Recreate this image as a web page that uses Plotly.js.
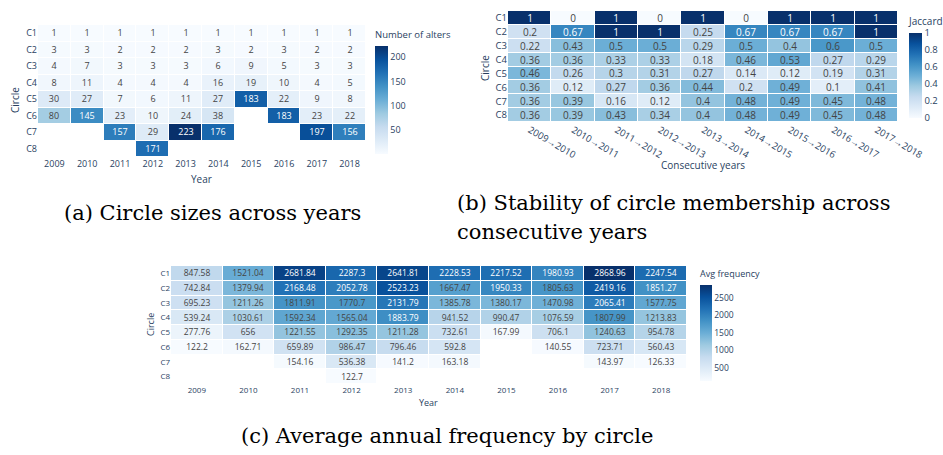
<!DOCTYPE html>
<html>
<head>
<meta charset="utf-8">
<script src="https://cdn.plot.ly/plotly-3.0.1.min.js"></script>
<style>html,body{margin:0;padding:0;background:#fff;}#chart{width:943px;height:455px;}</style>
</head>
<body>
<div id="chart"></div>
<script>
// ---- data ----
const circles = ['C1','C2','C3','C4','C5','C6','C7','C8'];
const years = ['2009','2010','2011','2012','2013','2014','2015','2016','2017','2018'];
const yearPairs = ['2009→2010','2010→2011','2011→2012','2012→2013','2013→2014','2014→2015','2015→2016','2016→2017','2017→2018'];

// (a) number of alters per circle per year
const sizeC1 = [1,1,1,1,1,1,1,1,1,1];
const sizeC2 = [3,3,2,2,2,3,2,3,2,2];
const sizeC3 = [4,7,3,3,3,6,9,5,3,3];
const sizeC4 = [8,11,4,4,4,16,19,10,4,5];
const sizeC5 = [30,27,7,6,11,27,183,22,9,8];
const sizeC6 = [80,145,23,10,24,38,null,183,23,22];
const sizeC7 = [null,null,157,29,223,176,null,null,197,156];
const sizeC8 = [null,null,null,171,null,null,null,null,null,null];

// (b) Jaccard stability across consecutive years
const jacC1 = [1,0,1,0,1,0,1,1,1];
const jacC2 = [0.2,0.67,1,1,0.25,0.67,0.67,0.67,1];
const jacC3 = [0.22,0.43,0.5,0.5,0.29,0.5,0.4,0.6,0.5];
const jacC4 = [0.36,0.36,0.33,0.33,0.18,0.46,0.53,0.27,0.29];
const jacC5 = [0.46,0.26,0.3,0.31,0.27,0.14,0.12,0.19,0.31];
const jacC6 = [0.36,0.12,0.27,0.36,0.44,0.2,0.49,0.1,0.41];
const jacC7 = [0.36,0.39,0.16,0.12,0.4,0.48,0.49,0.45,0.48];
const jacC8 = [0.36,0.39,0.43,0.34,0.4,0.48,0.49,0.45,0.48];

// (c) average annual frequency by circle
const freqC1 = [847.58,1521.04,2681.84,2287.3,2641.81,2228.53,2217.52,1980.93,2868.96,2247.54];
const freqC2 = [742.84,1379.94,2168.48,2052.78,2523.23,1667.47,1950.33,1805.63,2419.16,1851.27];
const freqC3 = [695.23,1211.26,1811.91,1770.7,2131.79,1385.78,1380.17,1470.98,2065.41,1577.75];
const freqC4 = [539.24,1030.61,1592.34,1565.04,1883.79,941.52,990.47,1076.59,1807.99,1213.83];
const freqC5 = [277.76,656,1221.55,1292.35,1211.28,732.61,167.99,706.1,1240.63,954.78];
const freqC6 = [122.2,162.71,659.89,986.47,796.46,592.8,null,140.55,723.71,560.43];
const freqC7 = [null,null,154.16,536.38,141.2,163.18,null,null,143.97,126.33];
const freqC8 = [null,null,null,122.7,null,null,null,null,null,null];

// ---- styling ----
const W = 943, H = 455;
const fx = p => p / W;
const fy = p => 1 - p / H;
const blues = [
  [0,'rgb(247,251,255)'],[0.125,'rgb(222,235,247)'],[0.25,'rgb(198,219,239)'],
  [0.375,'rgb(158,202,225)'],[0.5,'rgb(107,174,214)'],[0.625,'rgb(66,146,198)'],
  [0.75,'rgb(33,113,181)'],[0.875,'rgb(8,81,156)'],[1,'rgb(8,48,107)']
];
const txt = '#2a3f5f';
const base = 'Open Sans, Arial, sans-serif';
const serif = 'DejaVu Serif, Liberation Serif, serif';

function cb(xL, yTop, yBot, thick, title, dtick, size) {
  return {
    x: fx(xL), xanchor: 'left', xpad: 0, ypad: 0,
    y: fy((yTop + yBot) / 2), yanchor: 'middle',
    len: (yBot - yTop) / H, lenmode: 'fraction', thickness: thick,
    outlinewidth: 0, dtick: dtick, ticklen: 0, ticks: '',
    tickfont: {size: size, color: txt, family: base},
    title: {text: title, side: 'top', font: {size: size + 0.5, color: txt, family: base}}
  };
}

const traces = [
  {
    type: 'heatmap', x: years, y: circles,
    z: [sizeC1,sizeC2,sizeC3,sizeC4,sizeC5,sizeC6,sizeC7,sizeC8],
    colorscale: blues, zmin: 1, zmax: 223, xgap: 1, ygap: 1,
    texttemplate: '%{z:.0f}', textfont: {size: 9, family: base},
    xaxis: 'x', yaxis: 'y', hoverongaps: false,
    colorbar: cb(375, 28, 154, 13, 'Number of alters', 50, 9)
  },
  {
    type: 'heatmap', x: yearPairs, y: circles,
    z: [jacC1,jacC2,jacC3,jacC4,jacC5,jacC6,jacC7,jacC8],
    colorscale: blues, zmin: 0, zmax: 1, xgap: 1, ygap: 1,
    texttemplate: '%{z:.2~f}', textfont: {size: 10, family: base},
    xaxis: 'x2', yaxis: 'y2', hoverongaps: false,
    colorbar: cb(909, 14, 118, 13, 'Jaccard', 0.2, 9.5)
  },
  {
    type: 'heatmap', x: years, y: circles,
    z: [freqC1,freqC2,freqC3,freqC4,freqC5,freqC6,freqC7,freqC8],
    colorscale: blues, zmin: 122.2, zmax: 2868.96, xgap: 1, ygap: 1,
    texttemplate: '%{z:.2~f}', textfont: {size: 8.5, family: base},
    xaxis: 'x3', yaxis: 'y3', hoverongaps: false,
    colorbar: cb(700, 267, 381, 12, 'Avg frequency', 500, 8.5)
  }
];

function xax(l, r, anchor, size, extra) {
  return Object.assign({domain: [fx(l), fx(r)], anchor: anchor, type: 'category',
    showgrid: false, zeroline: false, showline: false, ticks: '',
    tickfont: {size: size, color: txt, family: base}}, extra || {});
}
function yax(t, b, anchor, size) {
  return {domain: [fy(b), fy(t)], anchor: anchor, type: 'category', autorange: 'reversed',
    showgrid: false, zeroline: false, showline: false, ticks: '', ticklabelstandoff: 0,
    tickfont: {size: size, color: txt, family: base}};
}

function ann(text, x, y, size, opts) {
  return Object.assign({text: text, x: fx(x), y: fy(y), xref: 'paper', yref: 'paper',
    showarrow: false, xanchor: 'center', yanchor: 'middle',
    font: {size: size, color: txt, family: base}}, opts || {});
}
const capFont = {size: 21, color: '#000', family: serif};

const layout = {
  width: W, height: H,
  margin: {l: 0, r: 0, t: 0, b: 0, pad: 0},
  paper_bgcolor: '#ffffff', plot_bgcolor: '#ffffff',
  font: {family: base, color: txt},
  showlegend: false,
  xaxis: xax(38, 366, 'y', 9),
  yaxis: yax(25, 157, 'x', 9),
  xaxis2: xax(508, 898, 'y2', 9.5, {tickangle: 30}),
  yaxis2: yax(11, 122, 'x2', 9.5),
  xaxis3: xax(171, 687, 'y3', 8),
  yaxis3: yax(266, 384, 'x3', 8),
  annotations: [
    ann('Year', 201, 179, 10),
    ann('Circle', 15, 100, 10, {textangle: -90}),
    ann('Consecutive years', 703, 165, 10),
    ann('Circle', 485, 68, 10, {textangle: -90}),
    ann('Year', 428, 402, 9),
    ann('Circle', 150, 325, 9, {textangle: -90}),
    ann('(a) Circle sizes across years', 62, 213, 21, {xanchor: 'left', font: capFont}),
    ann('(b) Stability of circle membership across', 455, 203, 21, {xanchor: 'left', font: capFont}),
    ann('consecutive years', 455, 232, 21, {xanchor: 'left', font: capFont}),
    ann('(c) Average annual frequency by circle', 239, 436, 21, {xanchor: 'left', font: capFont})
  ]
};

Plotly.newPlot('chart', traces, layout, {displayModeBar: false, staticPlot: true});
</script>
</body>
</html>
